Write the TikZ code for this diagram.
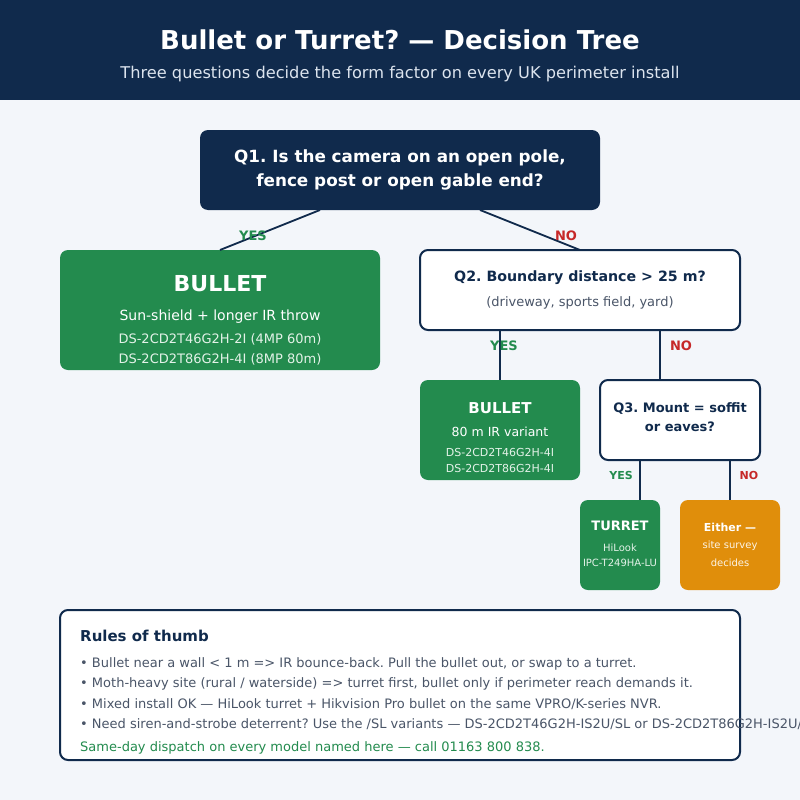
\documentclass[tikz,border=0pt]{standalone}
\usepackage{fontspec}
\setmainfont{DejaVu Sans}
\usetikzlibrary{positioning}
\frenchspacing

\definecolor{navy}{HTML}{102A4C}
\definecolor{pagebg}{HTML}{F3F6FA}
\definecolor{okgreen}{HTML}{238B4E}
\definecolor{nored}{HTML}{C62828}
\definecolor{amber}{HTML}{E08E0B}
\definecolor{bodygray}{HTML}{4A5568}
\definecolor{subgray}{HTML}{DCE4EE}
\definecolor{palegreen}{HTML}{E3F2E8}

\newcommand{\fsz}[1]{\fontsize{#1}{#1}\selectfont}

\tikzset{
  darkbox/.style={fill=navy, rounded corners=8pt, outer sep=0pt},
  askbox/.style={draw=navy, line width=2pt, fill=white, rounded corners=8pt, outer sep=0pt},
  gobox/.style={fill=okgreen, rounded corners=8pt, outer sep=0pt},
  maybebox/.style={fill=amber, rounded corners=8pt, outer sep=0pt},
  link/.style={draw=navy, line width=1.8pt},
  yeslbl/.style={text=okgreen, font=\bfseries\fsz{13}},
  nolbl/.style={text=nored, font=\bfseries\fsz{13}},
  rule/.style={anchor=west, text=bodygray, font=\fsz{13}, inner sep=0pt},
}

\begin{document}
\frenchspacing
\begin{tikzpicture}[x=1pt, y=-1pt]
    \useasboundingbox (0,0) rectangle (800,800);
    \fill[pagebg] (0,0) rectangle (800,800);

    % Header band
    \fill[navy] (0,0) rectangle (800,100);
    \node[text=white, font=\bfseries\fsz{26}] (title) at (400,40) {Bullet or Turret? — Decision Tree};
    \node[text=subgray, font=\fsz{16.2}] (subtitle) at (400,74) {Three questions decide the form factor on every UK perimeter install};

    % Q1
    \node[darkbox, minimum width=400pt, minimum height=80pt] (q1) at (400,170) {};
    \node[text=white, font=\bfseries\fsz{16.8}] (q1a) at (400,158) {Q1. Is the camera on an open pole,};
    \node[text=white, font=\bfseries\fsz{16.8}] (q1b) at (400,182) {fence post or open gable end?};

    % Bullet (yes to Q1)
    \node[gobox, minimum width=320pt, minimum height=120pt] (bul) at (220,310) {};
    \node[text=white, font=\bfseries\fsz{22}] (bulhead) at (220,284) {BULLET};
    \node[text=white, font=\fsz{14}] (bulnote) at (220,317) {Sun-shield + longer IR throw};
    \node[text=palegreen, font=\fsz{13}] (bulm1) at (220,339) {DS-2CD2T46G2H-2I (4MP 60m)};
    \node[text=palegreen, font=\fsz{13}] (bulm2) at (220,359) {DS-2CD2T86G2H-4I (8MP 80m)};

    % Q2
    \node[askbox, minimum width=320pt, minimum height=80pt] (q2) at (580,290) {};
    \node[text=navy, font=\bfseries\fsz{14.2}] (q2a) at (580,278) {Q2. Boundary distance > 25 m?};
    \node[text=bodygray, font=\fsz{13}] (q2b) at (580,303) {(driveway, sports field, yard)};

    % Bullet, long range (yes to Q2)
    \node[gobox, minimum width=160pt, minimum height=100pt] (bul2) at (500,430) {};
    \node[text=white, font=\bfseries\fsz{15}] (bul2head) at (500,408) {BULLET};
    \node[text=white, font=\fsz{12.5}] (bul2note) at (500,432) {80 m IR variant};
    \node[text=palegreen, font=\fsz{11}] (bul2m1) at (500,452) {DS-2CD2T46G2H-4I};
    \node[text=palegreen, font=\fsz{11}] (bul2m2) at (500,468) {DS-2CD2T86G2H-4I};

    % Q3
    \node[askbox, minimum width=160pt, minimum height=80pt] (q3) at (680,420) {};
    \node[text=navy, font=\bfseries\fsz{13}] (q3a) at (680,409) {Q3. Mount = soffit};
    \node[text=navy, font=\bfseries\fsz{13}] (q3b) at (680,427) {or eaves?};

    % Turret (yes to Q3)
    \node[gobox, minimum width=80pt, minimum height=90pt] (tur) at (620,545) {};
    \node[text=white, font=\bfseries\fsz{13}] (turhead) at (620,526) {TURRET};
    \node[text=palegreen, font=\fsz{10}] (turm1) at (620,548) {HiLook};
    \node[text=palegreen, font=\fsz{10}] (turm2) at (620,563) {IPC-T249HA-LU};

    % Either (no to Q3)
    \node[maybebox, minimum width=100pt, minimum height=90pt] (either) at (730,545) {};
    \node[text=white, font=\bfseries\fsz{11}] (eithhead) at (730,527) {Either —};
    \node[text=white!90!amber, font=\fsz{10}] (eith1) at (730,546) {site survey};
    \node[text=white!90!amber, font=\fsz{10}] (eith2) at (730,563) {decides};

    % Connectors
    \draw[link] ([xshift=-80pt]q1.south) -- (bul.north);
    \draw[link] ([xshift=80pt]q1.south) -- (q2.north);
    \draw[link] (bul2.north |- q2.south) -- (bul2.north);
    \draw[link] ([xshift=80pt]q2.south) -- ([xshift=-20pt]q3.north);
    \draw[link] ([xshift=20pt]tur.north |- q3.south) -- ([xshift=20pt]tur.north);
    \draw[link] (either.north |- q3.south) -- (either.north);

    % Branch labels
    \node[yeslbl] (y1) at (253,236) {YES};
    \node[nolbl] (n1) at (566,236) {NO};
    \node[yeslbl] (y2) at (504,346) {YES};
    \node[nolbl] (n2) at (681,346) {NO};
    \node[yeslbl, font=\bfseries\fsz{11}] (y3) at (621,475) {YES};
    \node[nolbl, font=\bfseries\fsz{11}] (n3) at (749,475) {NO};

    % Rules of thumb
    \node[askbox, minimum width=680pt, minimum height=150pt] (rules) at (400,685) {};
    \node[anchor=west, text=navy, font=\bfseries\fsz{15}, inner sep=0pt] (rulehead) at (80,636) {Rules of thumb};
    \node[rule] (r1) at (80,664) {• Bullet near a wall < 1 m => IR bounce-back. Pull the bullet out, or swap to a turret.};
    \node[rule] (r2) at (80,684) {• Moth-heavy site (rural / waterside) => turret first, bullet only if perimeter reach demands it.};
    \node[rule] (r3) at (80,704) {• Mixed install OK — HiLook turret + Hikvision Pro bullet on the same VPRO/K-series NVR.};
    \node[rule] (r4) at (80,724) {• Need siren-and-strobe deterrent? Use the /SL variants — DS-2CD2T46G2H-IS2U/SL or DS-2CD2T86G2H-IS2U/SL.};
    \node[rule, text=okgreen] (dispatch) at (80,748) {Same-day dispatch on every model named here — call 01163 800 838.};
\end{tikzpicture}
\end{document}
